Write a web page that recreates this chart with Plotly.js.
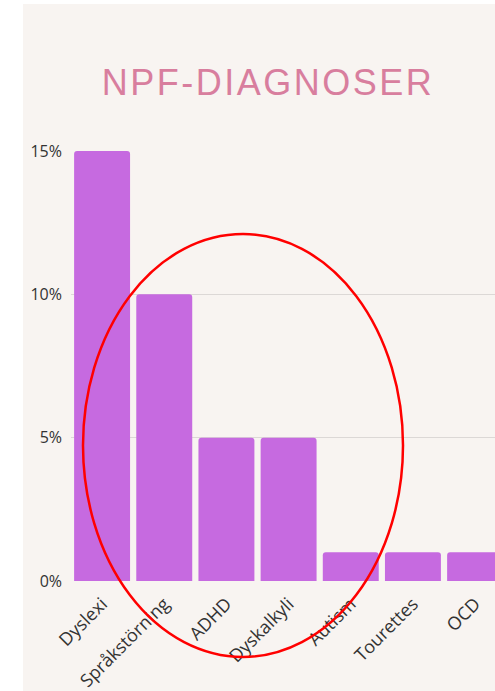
<!DOCTYPE html>
<html>
<head>
<meta charset="utf-8">
<script src="https://cdn.plot.ly/plotly-3.0.1.min.js"></script>
<style>
  html, body { margin: 0; padding: 0; background: #ffffff; width: 495px; height: 691px; overflow: hidden; }
  #chart { position: absolute; left: 23px; top: 4px; width: 472px; height: 687px; }
  .gtitle { letter-spacing: 2.5px; }
</style>
</head>
<body>
<div id="chart"></div>
<script>
const categories = ["Dyslexi", "Språkstörning", "ADHD", "Dyskalkyli", "Autism", "Tourettes", "OCD"];
const values = [15, 10, 5, 5, 1, 1, 1];
const tickValues = [0, 5, 10, 15];
const tickLabels = ["0%", "5%", "10%", "15%"];
const chartTitle = "NPF-DIAGNOSER";

const bg = "#f8f4f1";
const trace = {
  type: "bar",
  x: categories,
  y: values,
  marker: { color: "#c66ae0", cornerradius: 3, line: { width: 0 } },
  hoverinfo: "x+y"
};

const layout = {
  width: 472,
  height: 687,
  margin: { l: 48, r: 0, t: 147, b: 110 },
  paper_bgcolor: bg,
  plot_bgcolor: bg,
  showlegend: false,
  bargap: 0.1,
  title: {
    text: chartTitle,
    font: { family: "Liberation Sans, Arial, sans-serif", size: 36, color: "#d87e9e", weight: 300 },
    xref: "container", yref: "container",
    x: 0.519, xanchor: "center",
    y: 1 - 78 / 687, yanchor: "middle"
  },
  xaxis: {
    range: [-0.5, 6.32],
    tickangle: -45,
    tickfont: { family: "Open Sans, sans-serif", size: 18, color: "#333333" },
    showgrid: false,
    showline: false,
    zeroline: false,
    ticks: "",
    ticklabelstandoff: 8
  },
  yaxis: {
    range: [0, 15],
    tickvals: tickValues,
    ticktext: tickLabels,
    tickfont: { family: "Open Sans, sans-serif", size: 16, color: "#333333" },
    showgrid: true,
    gridcolor: "#dcd8d6",
    gridwidth: 1,
    zeroline: false,
    showline: false,
    ticks: "",
    ticklabelstandoff: 8
  },
  shapes: [{
    type: "circle",
    xref: "paper", yref: "paper",
    x0: (83 - 71) / 424, x1: (403 - 71) / 424,
    y0: (581 - 657) / 430, y1: (581 - 234) / 430,
    line: { color: "#ff0000", width: 2.5 },
    fillcolor: "rgba(0,0,0,0)"
  }]
};

Plotly.newPlot("chart", [trace], layout, { displayModeBar: false, staticPlot: true });
</script>
</body>
</html>
